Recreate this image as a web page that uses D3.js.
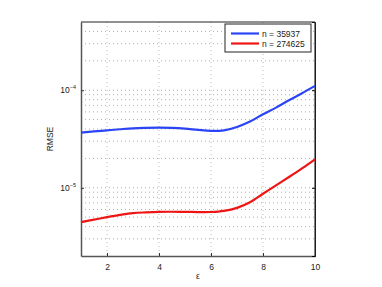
<!DOCTYPE html>
<html>
<head>
<meta charset="utf-8">
<script src="https://cdn.jsdelivr.net/npm/d3@7"></script>
<style>
  body { margin: 0; background: #fff; }
  svg { font-family: "Liberation Sans", Arial, sans-serif; }
</style>
</head>
<body>
<div id="chart"></div>
<script>
// epsilon values (x) and RMSE per series
var eps = [1, 1.5, 2, 2.5, 3, 3.5, 4, 4.5, 5, 5.5, 6, 6.5, 7, 7.5, 8, 8.5, 9, 9.5, 10];
var rmseSmall = [3.67e-5, 3.78e-5, 3.88e-5, 3.98e-5, 4.07e-5, 4.11e-5, 4.13e-5, 4.11e-5, 4.04e-5, 3.92e-5, 3.83e-5, 3.88e-5, 4.2e-5, 4.77e-5, 5.67e-5, 6.63e-5, 7.89e-5, 9.31e-5, 1.107e-4];
var rmseLarge = [4.45e-6, 4.72e-6, 5.0e-6, 5.27e-6, 5.5e-6, 5.6e-6, 5.67e-6, 5.68e-6, 5.67e-6, 5.64e-6, 5.65e-6, 5.8e-6, 6.23e-6, 7.12e-6, 8.68e-6, 1.06e-5, 1.29e-5, 1.58e-5, 1.96e-5];
var seriesNames = ["n = 35937", "n = 274625"];
var seriesColors = ["#2b45f5", "#ee1515"];
var xTicks = [2, 4, 6, 8, 10];
var yTicks = [1e-5, 1e-4];

var margin = {top: 22, right: 67, bottom: 31, left: 81},
    width = 382 - margin.left - margin.right,
    height = 287 - margin.top - margin.bottom;

var svg = d3.select("#chart")
  .append("svg")
    .attr("width", 382)
    .attr("height", 287)
  .append("g")
    .attr("transform", "translate(" + margin.left + "," + margin.top + ")");

var x = d3.scaleLinear().domain([1, 10]).range([0, width]);
var y = d3.scaleLog().domain([2e-6, 5e-4]).range([height, 0]);

// dotted grid: major x, minor + major y
var minorY = [];
[1e-6, 1e-5, 1e-4].forEach(function(dec) {
  for (var k = 1; k <= 9; k++) {
    var v = k * dec;
    if (v > 2e-6 && v < 5e-4) minorY.push(v);
  }
});

var grid = svg.append("g").attr("class", "grid");
grid.selectAll("line.gx")
  .data(xTicks.filter(function(d) { return d < 10; }))
  .enter().append("line")
    .attr("x1", function(d) { return x(d); })
    .attr("x2", function(d) { return x(d); })
    .attr("y1", 0).attr("y2", height)
    .attr("stroke", "#aaa").attr("stroke-width", 0.8)
    .attr("stroke-dasharray", "1,3");
grid.selectAll("line.gy")
  .data(minorY)
  .enter().append("line")
    .attr("x1", 0).attr("x2", width)
    .attr("y1", function(d) { return y(d); })
    .attr("y2", function(d) { return y(d); })
    .attr("stroke", "#999").attr("stroke-width", 0.8)
    .attr("stroke-dasharray", "1,3");

// axes (ticks pointing inward, matlab style)
var xAxis = svg.append("g")
  .attr("transform", "translate(0," + height + ")")
  .call(d3.axisBottom(x).tickValues(xTicks).tickSizeInner(-3).tickSizeOuter(0).tickPadding(8));
var yAxis = svg.append("g")
  .call(d3.axisLeft(y).tickValues(yTicks).tickSizeInner(-3).tickSizeOuter(0).tickPadding(6).tickFormat(""));
svg.append("g")
  .attr("transform", "translate(" + width + ",0)")
  .call(d3.axisRight(y).tickValues(yTicks).tickSize(-3).tickFormat(""));

[xAxis, yAxis].forEach(function(a) {
  a.select(".domain").attr("stroke", "#555").attr("stroke-width", 1.5);
  a.selectAll(".tick line").attr("stroke", "#333");
  a.selectAll("text").attr("font-size", 8.5).attr("fill", "#222");
});

// box top and right
svg.append("line").attr("x1", 0).attr("x2", width).attr("y1", 0).attr("y2", 0)
  .attr("stroke", "#222").attr("stroke-width", 1);
svg.append("line").attr("x1", width).attr("x2", width).attr("y1", 0).attr("y2", height)
  .attr("stroke", "#333").attr("stroke-width", 1.2);

// y tick labels 10^-k
var ylab = svg.append("g").selectAll("text")
  .data(yTicks)
  .enter().append("text")
    .attr("x", -5)
    .attr("y", function(d) { return y(d) + 3; })
    .attr("text-anchor", "end")
    .attr("font-size", 8.5)
    .attr("fill", "#222");
ylab.append("tspan").text("10");
ylab.append("tspan")
  .attr("dy", -4)
  .attr("font-size", 5.5)
  .text(function(d) { return "\u2212" + Math.round(-Math.log10(d)); });

// axis labels
svg.append("text")
  .attr("x", width / 2)
  .attr("y", height + 23)
  .attr("text-anchor", "middle")
  .attr("font-size", 8.5)
  .attr("fill", "#222")
  .text("\u03b5");
svg.append("text")
  .attr("transform", "translate(-28," + (height / 2) + ") rotate(-90)")
  .attr("text-anchor", "middle")
  .attr("font-size", 8.5)
  .attr("fill", "#222")
  .text("RMSE");

// lines
var line = d3.line()
  .x(function(d) { return x(d[0]); })
  .y(function(d) { return y(d[1]); })
  .curve(d3.curveCatmullRom);

[rmseSmall, rmseLarge].forEach(function(vals, i) {
  svg.append("path")
    .datum(eps.map(function(e, j) { return [e, vals[j]]; }))
    .attr("fill", "none")
    .attr("stroke", seriesColors[i])
    .attr("stroke-width", 2.2)
    .attr("d", line);
});

// legend
var lg = svg.append("g").attr("transform", "translate(" + (width - 90) + ",2)");
lg.append("rect")
  .attr("width", 86).attr("height", 28)
  .attr("fill", "#fff").attr("stroke", "#222").attr("stroke-width", 1);
seriesNames.forEach(function(name, i) {
  lg.append("line")
    .attr("x1", 6).attr("x2", 34)
    .attr("y1", 9.5 + i * 10).attr("y2", 9.5 + i * 10)
    .attr("stroke", seriesColors[i]).attr("stroke-width", 2.2);
  lg.append("text")
    .attr("x", 37).attr("y", 12.5 + i * 10)
    .attr("font-size", 8.5).attr("fill", "#222")
    .text(name);
});
</script>
</body>
</html>
